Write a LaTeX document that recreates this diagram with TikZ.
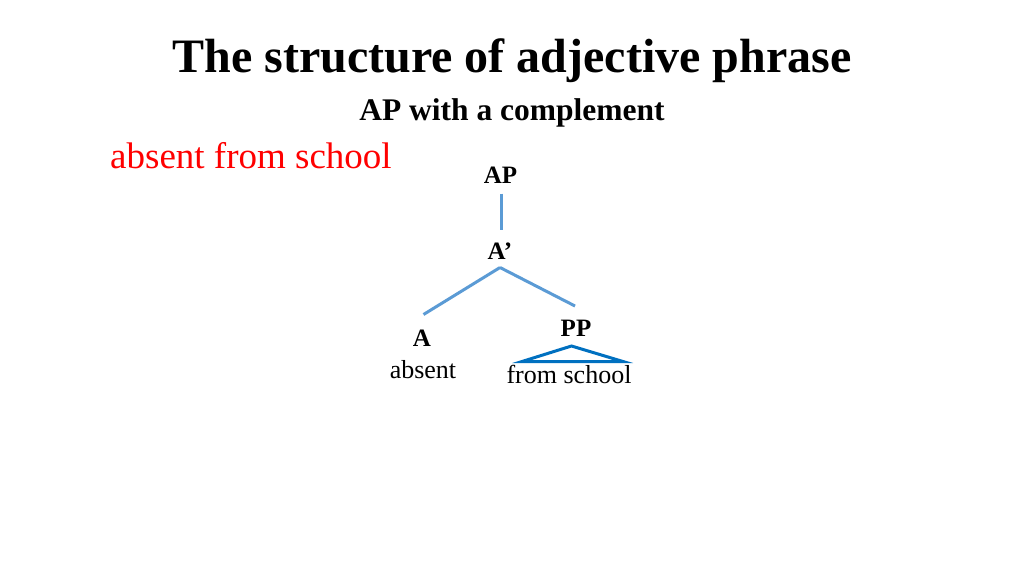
\documentclass[tikz,border=0pt]{standalone}
\usepackage{fontspec}
\setmainfont{Liberation Serif}
\definecolor{branch}{RGB}{91,155,213}
\definecolor{tri}{RGB}{0,112,192}
\definecolor{redtxt}{RGB}{255,0,0}
\begin{document}
\begin{tikzpicture}[x=1pt,y=-1pt,
  lbl/.style={inner sep=0pt,anchor=base,font=\fontsize{25}{25}\selectfont\bfseries},
  word/.style={inner sep=0pt,anchor=base,font=\fontsize{26}{26}\selectfont},
  branchline/.style={draw=branch,line width=3pt},
  triline/.style={draw=tri,line width=3pt,line join=miter}]
\useasboundingbox[fill=white] (0,0) rectangle (1024,576);
\node[inner sep=0pt,anchor=base,font=\fontsize{48}{48}\selectfont\bfseries] (title) at (512,72) {The structure of adjective phrase};
\node[inner sep=0pt,anchor=base,font=\fontsize{31.5}{31.5}\selectfont\bfseries] (sub) at (512,120.5) {AP with a complement};
\node[inner sep=0pt,anchor=base west,font=\fontsize{37}{37}\selectfont,text=redtxt] (ex) at (110,168) {absent from school};
\node[lbl] (AP) at (500.5,183.5) {AP};
\node[lbl] (Abar) at (500,259) {A’};
\node[lbl] (A) at (422,346.5) {A};
\node[lbl] (PP) at (576,336) {PP};
\node[word] (absent) at (423,378) {absent};
\node[word] (fs) at (569,383) {from school};
\coordinate (apB) at (501,193.5);
\coordinate (abT) at (501,229.5);
\coordinate (abB) at (500,267.5);
\coordinate (aT) at (423.5,314.5);
\coordinate (ppT) at (575,306);
\coordinate (triTop) at (571.5,346);
\coordinate (triL) at (522,361.5);
\coordinate (triR) at (623,361.5);
\draw[branchline] (apB) -- (abT);
\draw[branchline] (abB) -- (aT);
\draw[branchline] (abB) -- (ppT);
\draw[triline] (triTop) -- (triR) -- (triL) -- cycle;
\end{tikzpicture}
\end{document}
